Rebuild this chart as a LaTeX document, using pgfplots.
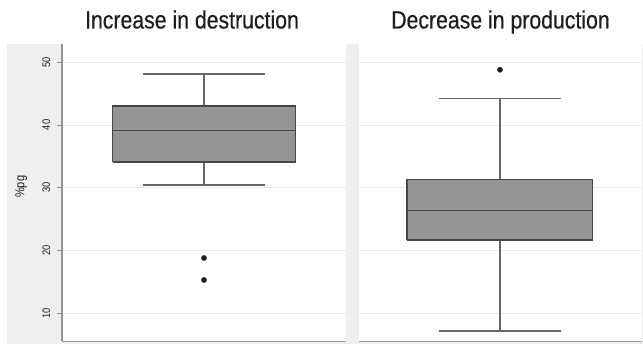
\documentclass[border=0pt]{standalone}
\usepackage{fontspec}
\setmainfont{Liberation Sans}[FakeStretch=0.85]
\newfontfamily\titlefont{Liberation Sans}[FakeStretch=0.85, FakeBold=0.35]
\usepackage{pgfplots}
\pgfplotsset{compat=1.18}
\definecolor{bggray}{HTML}{EFEFEF}
\definecolor{boxfill}{HTML}{959595}
\definecolor{boxline}{HTML}{474747}
\definecolor{whline}{HTML}{666666}
\definecolor{axgray}{HTML}{959595}
\definecolor{gridgray}{HTML}{EAEAEA}
\definecolor{txt}{HTML}{1E1E1E}
\begin{document}
\begin{tikzpicture}
\fill[white] (0,0) rectangle (643pt,344pt);
\fill[bggray] (7pt,0) rectangle (643pt,300pt);
\pgfplotsset{
  panel/.style={
    scale only axis, height=297.5pt,
    xmin=0, xmax=1, ymin=5.5, ymax=52.9,
    axis background/.style={fill=white},
    ytick={10,20,30,40,50}, xtick=\empty,
    ymajorgrids, grid style={gridgray, line width=0.9pt},
    axis x line*=bottom, axis y line*=left,
    x axis line style={axgray, line width=1.5pt},
    y axis line style={axgray, line width=1.5pt},
    tick align=outside, major tick length=5pt,
    tick style={axgray, line width=0.9pt},
    /pgf/number format/assume math mode=true,
    yticklabel style={rotate=90, anchor=south, inner ysep=6.5pt, font=\fontsize{11}{12}\selectfont, text=txt},
    title style={font=\titlefont\fontsize{25}{28}\selectfont, text=txt, at={(0.5,1)}, anchor=base, yshift=9.5pt},
    clip=false,
  },
  bx/.style={fill=boxfill, draw=boxline, line width=1.4pt, mark=none},
  wh/.style={draw=whline, line width=1.4pt, mark=none},
  outl/.style={only marks, mark=*, mark size=2.7pt, mark options={fill=black!88, draw=black!88, line width=0.2pt}},
}
% left panel: box 0.1785..0.8215, caps 0.2845..0.7155, center 0.5
\begin{axis}[panel, at={(62pt,2.5pt)}, anchor=south west, width=284pt,
  title={Increase in destruction}, title style={xshift=-12pt},
  ylabel={\%pg},
  ylabel style={font=\fontsize{13}{15}\selectfont, text=txt, at={(axis description cs:-0.144,0.52)}, anchor=center}]
\addplot[wh] coordinates {(0.5,43.0) (0.5,48.1)};
\addplot[wh] coordinates {(0.5,34.1) (0.5,30.45)};
\addplot[wh] coordinates {(0.2845,48.1) (0.7155,48.1)};
\addplot[wh] coordinates {(0.2845,30.45) (0.7155,30.45)};
\addplot[bx] coordinates {(0.1785,34.1) (0.8215,34.1) (0.8215,43.0) (0.1785,43.0) (0.1785,34.1)};
\addplot[bx, fill=none] coordinates {(0.1785,39.1) (0.8215,39.1)};
\addplot[outl] coordinates {(0.5,18.8) (0.5,15.3)};
\end{axis}
% right panel: box 0.17..0.826, caps 0.2815..0.7145, center 0.498
\begin{axis}[panel, at={(359pt,2.5pt)}, anchor=south west, width=283pt,
  title={Decrease in production},
  y axis line style={opacity=0}, yticklabel style={opacity=0}, ytick style={opacity=0}]
\addplot[wh] coordinates {(0.498,31.35) (0.498,44.26)};
\addplot[wh] coordinates {(0.498,21.68) (0.498,7.18)};
\addplot[wh] coordinates {(0.2815,44.26) (0.7145,44.26)};
\addplot[wh] coordinates {(0.2815,7.18) (0.7145,7.18)};
\addplot[bx] coordinates {(0.17,21.68) (0.826,21.68) (0.826,31.35) (0.17,31.35) (0.17,21.68)};
\addplot[bx, fill=none] coordinates {(0.17,26.4) (0.826,26.4)};
\addplot[outl] coordinates {(0.498,48.8)};
\end{axis}
\end{tikzpicture}
\end{document}
